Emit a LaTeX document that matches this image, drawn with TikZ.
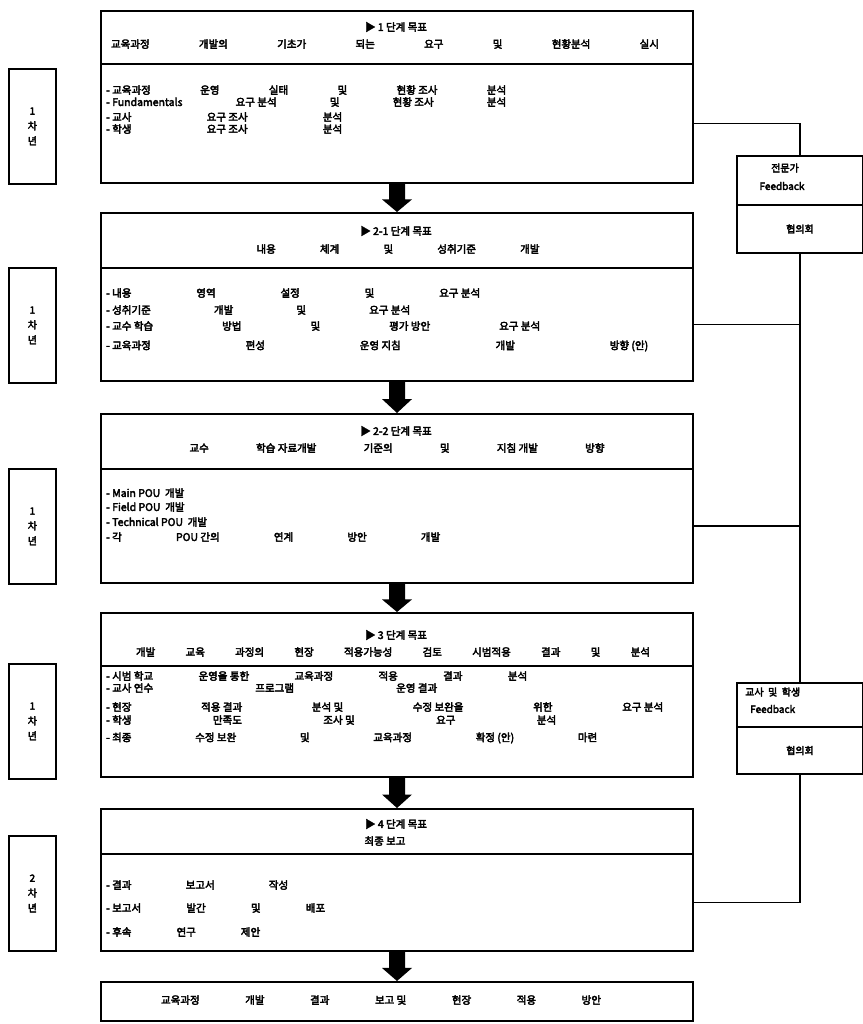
\documentclass[tikz,border=0pt]{standalone}
\usepackage{fontspec}
\newfontfamily\kr{Noto Sans CJK KR}[AutoFakeBold=3.5]
\usetikzlibrary{calc}
\newcommand\spread[2]{\hbox to #1pt{#2}}
\newcommand\blockarrow[2]{%
  \fill ($(#1.south)+(-8,0)$) -- ($(#1.south)+(8,0)$)
    -- ($(#1.south)!0.55!(#2.north)+(8,0)$) -- ($(#1.south)!0.55!(#2.north)+(15,0)$)
    -- (#2.north)
    -- ($(#1.south)!0.55!(#2.north)+(-15,0)$) -- ($(#1.south)!0.55!(#2.north)+(-8,0)$) -- cycle;}
\begin{document}
\begin{tikzpicture}[x=1pt,y=-1pt,
  font=\kr\bfseries\fontsize{10.5}{12}\selectfont,
  part/.style={draw, line width=2pt, anchor=north west, inner sep=0pt},
  tline/.style={inner sep=0pt, anchor=center, font=\kr\bfseries\fontsize{10.5}{12}\selectfont},
  bline/.style={inner sep=0pt, anchor=west},
  wire/.style={line width=1.4pt},
  stage/.style={draw, line width=1.8pt, minimum width=47pt, minimum height=115pt,
    anchor=north west, inner sep=0pt, align=center,
    font=\kr\bfseries\fontsize{10}{15}\selectfont},
  fbtext/.style={inner sep=0pt, font=\kr\bfseries\fontsize{10}{12}\selectfont}
]
\fill[white] (0,0) rectangle (862,1024);
\path[use as bounding box] (0,0) rectangle (862,1024);

% ---------- main boxes ----------
\node[part, minimum width=592pt, minimum height=53pt]  (t1) at (100,10)  {};
\node[part, minimum width=592pt, minimum height=119pt] (b1) at (100,63)  {};
\node[part, minimum width=592pt, minimum height=55pt]  (t2) at (100,212) {};
\node[part, minimum width=592pt, minimum height=113pt] (b2) at (100,267) {};
\node[part, minimum width=592pt, minimum height=55pt]  (t3) at (100,413) {};
\node[part, minimum width=592pt, minimum height=114pt] (b3) at (100,468) {};
\node[part, minimum width=592pt, minimum height=53pt]  (t4) at (100,612) {};
\node[part, minimum width=592pt, minimum height=111pt] (b4) at (100,665) {};
\node[part, minimum width=592pt, minimum height=45pt]  (t5) at (100,808) {};
\node[part, minimum width=592pt, minimum height=97pt]  (b5) at (100,853) {};
\node[part, minimum width=592pt, minimum height=39pt]  (t6) at (100,981) {};

% ---------- stage boxes ----------
\node[stage] (s1) at (8,68)  {1\\차\\년};
\node[stage] (s2) at (8,267) {1\\차\\년};
\node[stage] (s3) at (8,468) {1\\차\\년};
\node[stage] (s4) at (8,663) {1\\차\\년};
\node[stage] (s5) at (8,835) {2\\차\\년};

% ---------- feedback boxes ----------
\node[part, minimum width=126pt, minimum height=49pt] (f1t) at (736,155) {};
\node[part, minimum width=126pt, minimum height=48pt] (f1b) at (736,204) {};
\node[part, minimum width=126pt, minimum height=44pt] (f2t) at (736,682) {};
\node[part, minimum width=126pt, minimum height=47pt] (f2b) at (736,726) {};

\node[fbtext] (f1a) at (785,168) {전문가};
\node[fbtext] (f1c) at (782,186) {Feedback};
\node[fbtext] (f1d) at (f1b.center) {협의회};
\node[fbtext, anchor=west] (f2a) at (745,692) {교사~~및~~학생};
\node[fbtext, anchor=west] (f2c) at (750,709) {Feedback};
\node[fbtext] (f2d) at (f2b.center) {협의회};

% ---------- box 1 ----------
\node[tline] (t1a) at (396,27) {▶ 1 단계 목표};
\node[tline] (t1b) at (385,44) {\spread{548}{교육과정\hfill 개발의\hfill 기초가\hfill 되는\hfill 요구\hfill 및\hfill 현황분석\hfill 실시}};
\node[bline] (b1l1) at (106,90)  {\spread{400}{- 교육과정\hfill 운영\hfill 실태\hfill 및\hfill 현황 조사\hfill 분석}};
\node[bline] (b1l2) at (106,102) {\spread{400}{- Fundamentals\hfill 요구 분석\hfill 및\hfill 현황 조사\hfill 분석}};
\node[bline] (b1l3) at (106,117) {\spread{236}{- 교사\hfill 요구 조사\hfill 분석}};
\node[bline] (b1l4) at (106,129) {\spread{236}{- 학생\hfill 요구 조사\hfill 분석}};

% ---------- box 2 ----------
\node[tline] (t2a) at (396,231) {▶ 2-1 단계 목표};
\node[tline] (t2b) at (398,249) {\spread{283}{내용\hfill 체계\hfill 및\hfill 성취기준\hfill 개발}};
\node[bline] (b2l1) at (106,293) {\spread{374}{- 내용\hfill 영역\hfill 설정\hfill 및\hfill 요구 분석}};
\node[bline] (b2l2) at (106,310) {\spread{304}{- 성취기준\hfill 개발\hfill 및\hfill 요구 분석}};
\node[bline] (b2l3) at (106,326) {\spread{434}{- 교수 학습\hfill 방법\hfill 및\hfill 평가 방안\hfill 요구 분석}};
\node[bline] (b2l4) at (106,346) {\spread{542}{- 교육과정\hfill 편성\hfill 운영 지침\hfill 개발\hfill 방향 (안)}};

% ---------- box 3 ----------
\node[tline] (t3a) at (396,431) {▶ 2-2 단계 목표};
\node[tline] (t3b) at (397,448) {\spread{415}{교수\hfill 학습 자료개발\hfill 기준의\hfill 및\hfill 지침 개발\hfill 방향}};
\node[bline] (b3l1) at (106,493) {- Main POU~~개발};
\node[bline] (b3l2) at (106,507) {- Field POU~~개발};
\node[bline] (b3l3) at (106,522) {- Technical POU~~개발};
\node[bline] (b3l4) at (106,537) {\spread{334}{- 각\hfill POU 간의\hfill 연계\hfill 방안\hfill 개발}};

% ---------- box 4 ----------
\node[tline] (t4a) at (396,635) {▶ 3 단계 목표};
\node[tline] (t4b) at (393,652) {\spread{514}{개발\hfill 교육\hfill 과정의\hfill 현장\hfill 적용가능성\hfill 검토\hfill 시범적용\hfill 결과\hfill 및\hfill 분석}};
\node[bline] (b4l1) at (106,676) {\spread{421}{- 시범 학교\hfill 운영을 통한\hfill 교육과정\hfill 적용\hfill 결과\hfill 분석}};
\node[bline] (b4l2) at (106,688) {\spread{331}{- 교사 연수\hfill 프로그램\hfill 운영 결과}};
\node[bline] (b4l3) at (106,707) {\spread{557}{- 현장\hfill 적용 결과\hfill 분석 및\hfill 수정 보완을\hfill 위한\hfill 요구 분석}};
\node[bline] (b4l4) at (106,720) {\spread{450}{- 학생\hfill 만족도\hfill 조사 및\hfill 요구\hfill 분석}};
\node[bline] (b4l5) at (106,738) {\spread{491}{- 최종\hfill 수정 보완\hfill 및\hfill 교육과정\hfill 확정 (안)\hfill 마련}};

% ---------- box 5 ----------
\node[tline] (t5a) at (396,824) {▶ 4 단계 목표};
\node[tline] (t5b) at (385,841) {최종 보고};
\node[bline] (b5l1) at (106,885) {\spread{182}{- 결과\hfill 보고서\hfill 작성}};
\node[bline] (b5l2) at (106,908) {\spread{219}{- 보고서\hfill 발간\hfill 및\hfill 배포}};
\node[bline] (b5l3) at (106,932) {\spread{154}{- 후속\hfill 연구\hfill 제안}};

% ---------- box 6 ----------
\node[tline] (t6a) at (381,1000) {\spread{440}{교육과정\hfill 개발\hfill 결과\hfill 보고 및\hfill 현장\hfill 적용\hfill 방안}};

% ---------- block arrows ----------
\blockarrow{b1}{t2}
\blockarrow{b2}{t3}
\blockarrow{b3}{t4}
\blockarrow{b4}{t5}
\blockarrow{b5}{t6}

% ---------- feedback connectors ----------
\draw[wire] (b1.east) -| (f1t.north);
\draw[wire] (f1b.south) -- (f2t.north);
\draw[wire] (b2.east) -- (b2.east -| f1b.south);
\draw[wire] (b3.east) -- (b3.east -| f1b.south);
\draw[wire] (f2b.south) |- (b5.east);
\end{tikzpicture}
\end{document}
